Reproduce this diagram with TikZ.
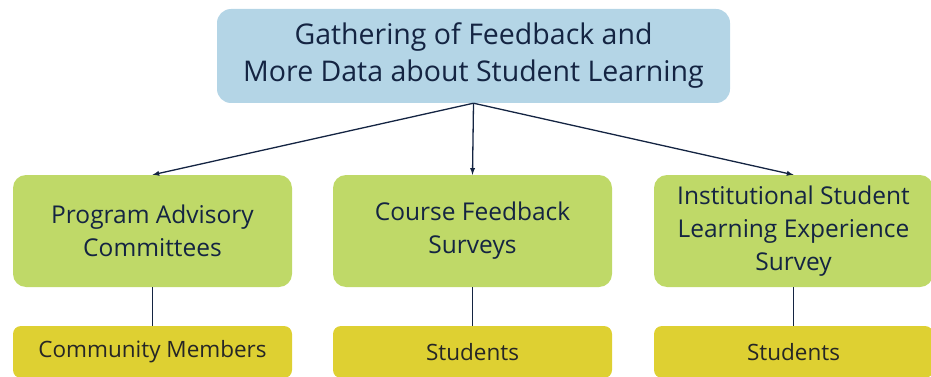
\documentclass[tikz,border=0pt]{standalone}
\usepackage{fontspec}
\setmainfont{Open Sans}
\usetikzlibrary{positioning}

\definecolor{topblue}{RGB}{180,213,230}
\definecolor{boxgreen}{RGB}{191,217,104}
\definecolor{boxyellow}{RGB}{222,208,50}
\definecolor{navytext}{RGB}{20,36,66}

\begin{document}
\begin{tikzpicture}[x=1pt,y=-1pt]

% Picture frame
\useasboundingbox (0,0) rectangle (931,377);
\clip (0,0) rectangle (931,377);

\tikzset{
    headbox/.style={
        fill=topblue,
        rounded corners=14pt,
        minimum width=513pt,
        minimum height=94pt,
        text=navytext,
        align=center,
        font=\fontsize{28.5}{37}\selectfont,
        },
    groupbox/.style={
        fill=boxgreen,
        rounded corners=13pt,
        minimum width=279pt,
        minimum height=112pt,
        text=navytext,
        align=center,
        font=\fontsize{24.5}{33}\selectfont,
        },
    whobox/.style={
        fill=boxyellow,
        rounded corners=8pt,
        minimum width=279pt,
        minimum height=52pt,
        text=black!85,
        font=\fontsize{22.5}{26}\selectfont,
        },
    feed/.style={
        draw=navytext,
        line width=1.3pt,
        -latex,
        },
    tie/.style={
        draw=navytext,
        line width=1.3pt,
        },
}

% Top box
\node[headbox] (gather) at (473.5,56) {Gathering of Feedback and\\More Data about Student Learning};

% Middle row
\node[groupbox] (advisory) at (152.5,231) {Program Advisory\\Committees};
\node[groupbox] (course) at (472.5,231) {Course Feedback\\Surveys};
\node[groupbox] (islES) at (793.5,231) {Institutional Student\\Learning Experience\\Survey};

% Bottom row
\node[whobox] (community) at (152.5,352) {Community Members};
\node[whobox] (students1) at (472.5,352) {Students};
\node[whobox] (students2) at (793.5,352) {Students};

% Arrows down from the top box
\path[feed] (gather.south) -- (advisory.north);
\path[feed] (gather.south) -- (course.north);
\path[feed] (gather.south) -- (islES.north);

% Links to who is asked
\path[tie] (advisory.south) -- (community.north);
\path[tie] (course.south) -- (students1.north);
\path[tie] (islES.south) -- (students2.north);

\end{tikzpicture}
\end{document}
